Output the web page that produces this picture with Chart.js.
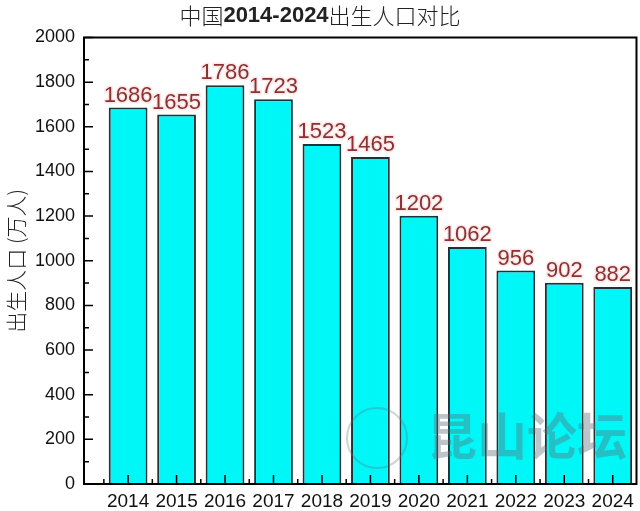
<!DOCTYPE html>
<html><head><meta charset="utf-8">
<script src="https://cdn.jsdelivr.net/npm/chart.js@4"></script>
<style>html,body{margin:0;padding:0;background:#fff}#wrap{width:640px;height:511px}</style>
</head><body><div id="wrap"><canvas id="c" width="640" height="511"></canvas></div>
<script>
const chartTitleParts = [['中国', 'cjk'], ['2014-2024', 'num'], ['出生人口对比', 'cjk']];
const yAxisTitle = '出生人口 (万人)';
const years = [2014, 2015, 2016, 2017, 2018, 2019, 2020, 2021, 2022, 2023, 2024];
const births = [1686, 1655, 1786, 1723, 1523, 1465, 1202, 1062, 956, 902, 882];
const yMajorStep = 200;
const yMinorStep = 100;
const watermarkText = '昆山论坛';

const overlay = {
  id: 'overlay',
  afterDatasetsDraw(chart) {
    const ctx = chart.ctx, a = chart.chartArea;
    const xs = chart.scales.x, ys = chart.scales.y;
    ctx.save();
    // watermark
    ctx.fillStyle = 'rgba(90,110,125,0.4)';
    ctx.font = 'bold 50px "Noto Sans CJK SC"';
    ctx.textAlign = 'center'; ctx.textBaseline = 'middle';
    ctx.fillText(watermarkText, 527, 436);
    ctx.strokeStyle = 'rgba(90,110,125,0.3)';
    ctx.lineWidth = 2;
    ctx.beginPath(); ctx.arc(377, 438, 30, 0, Math.PI * 2); ctx.stroke();
    // box lines
    ctx.strokeStyle = '#000';
    ctx.lineWidth = 2;
    ctx.beginPath();
    ctx.moveTo(a.left, a.bottom); ctx.lineTo(a.left, a.top); ctx.lineTo(a.right, a.top); ctx.lineTo(a.right, a.bottom); ctx.lineTo(a.left, a.bottom);
    ctx.stroke();
    // y ticks (inward)
    ctx.lineWidth = 1.5;
    ctx.beginPath();
    for (let v = ys.min; v <= ys.max; v += yMinorStep) {
      const y = ys.getPixelForValue(v);
      const len = (v % yMajorStep === 0) ? 9 : 5;
      ctx.moveTo(a.left, y); ctx.lineTo(a.left + len, y);
    }
    // x ticks (inward)
    years.forEach(yr => {
      const x = xs.getPixelForValue(yr);
      ctx.moveTo(x, a.bottom); ctx.lineTo(x, a.bottom - 9);
      const xm = xs.getPixelForValue(yr - 0.5);
      if (xm > a.left) { ctx.moveTo(xm, a.bottom); ctx.lineTo(xm, a.bottom - 5); }
    });
    ctx.stroke();
    // data labels
    const meta = chart.getDatasetMeta(0);
    ctx.font = '22px "Liberation Sans"';
    ctx.textAlign = 'center'; ctx.textBaseline = 'alphabetic';
    meta.data.forEach((bar, i) => {
      ctx.lineWidth = 3;
      ctx.strokeStyle = 'rgba(255,225,225,0.8)';
      ctx.strokeText(String(births[i]), bar.x, bar.y - 6);
      ctx.fillStyle = '#8a3232';
      ctx.fillText(String(births[i]), bar.x, bar.y - 6);
    });
    // title
    const fonts = { cjk: '300 22px "Noto Sans CJK SC"', num: 'bold 22px "Liberation Sans"' };
    let total = 0;
    chartTitleParts.forEach(([t, k]) => { ctx.font = fonts[k]; total += ctx.measureText(t).width; });
    let x = 320 - total / 2;
    ctx.fillStyle = '#222';
    ctx.textAlign = 'left'; ctx.textBaseline = 'middle';
    chartTitleParts.forEach(([t, k]) => { ctx.font = fonts[k]; ctx.fillText(t, x, 16); x += ctx.measureText(t).width; });
    ctx.restore();
  }
};

new Chart(document.getElementById('c'), {
  type: 'bar',
  data: {
    datasets: [{
      data: years.map((yr, i) => ({ x: yr, y: births[i] })),
      backgroundColor: '#00F7F7',
      borderColor: '#1a3438',
      borderWidth: 2,
      categoryPercentage: 1,
      barPercentage: 0.8
    }]
  },
  options: {
    responsive: false,
    animation: false,
    devicePixelRatio: 1,
    layout: { padding: { top: 37.5, right: 3, left: 0, bottom: 0 } },
    plugins: { legend: { display: false }, tooltip: { enabled: false }, title: { display: false } },
    scales: {
      x: {
        type: 'linear', min: 2013.09, max: 2024.49, offset: false,
        afterBuildTicks: s => { s.ticks = years.map(v => ({ value: v })); },
        afterFit: s => { s.height = 27; },
        grid: { display: false, drawTicks: false, offset: false },
        border: { display: true, color: '#000', width: 2 },
        ticks: { callback: v => String(v), font: { family: 'Liberation Sans', size: 19 }, color: '#111', padding: 6, autoSkip: false, maxRotation: 0 }
      },
      y: {
        min: 0, max: 2000,
        afterFit: s => { s.width = 84; },
        grid: { display: false, drawTicks: false },
        border: { display: true, color: '#000', width: 2 },
        ticks: { stepSize: yMajorStep, callback: v => String(v), font: { family: 'Liberation Sans', size: 18 }, color: '#111', padding: 9 },
        title: { display: true, text: yAxisTitle, font: { family: 'Noto Sans CJK SC', size: 21, weight: '300' }, color: '#222', padding: { top: 3, bottom: 0 } }
      }
    }
  },
  plugins: [overlay]
});
</script>
</body></html>
